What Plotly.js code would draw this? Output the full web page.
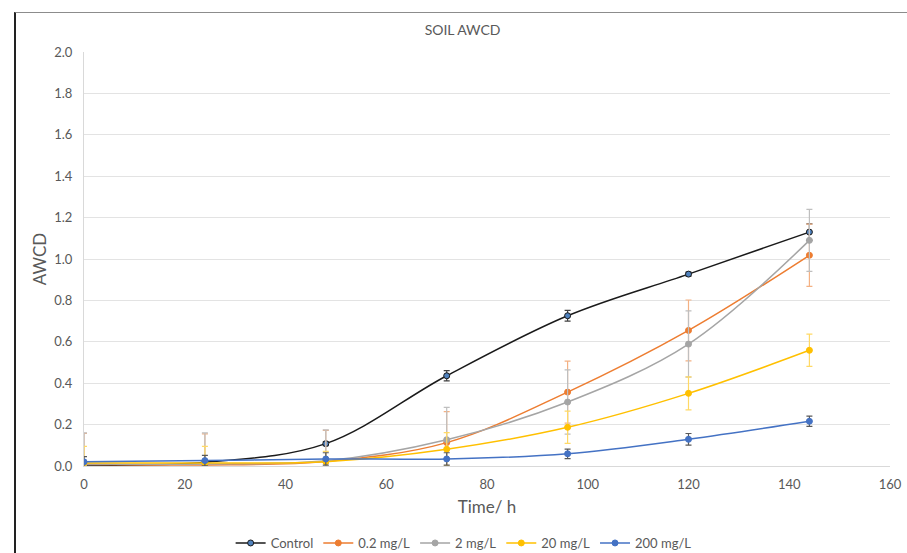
<!DOCTYPE html>
<html>
<head>
<meta charset="utf-8">
<script src="https://cdn.plot.ly/plotly-3.0.1.min.js"></script>
<style>
  html, body { margin: 0; padding: 0; background: #fff; }
  #wrap { position: relative; width: 907px; height: 553px; overflow: hidden; }
  #chart { width: 907px; height: 553px; }
  #frame { position: absolute; left: 14px; top: 12px; width: 1000px; height: 1000px;
           border-left: 2px solid #222; border-top: 1.5px solid #8c8c8c; pointer-events: none; }
</style>
</head>
<body>
<div id="wrap">
  <div id="chart"></div>
  <div id="frame"></div>
</div>
<script>
const time = [0, 24, 48, 72, 96, 120, 144];

const seriesNames = ["Control", "0.2 mg/L", "2 mg/L", "20 mg/L", "200 mg/L"];

const control     = [0.005, 0.018, 0.108, 0.436, 0.726, 0.927, 1.130];
const controlErr  = [0.010, 0.010, 0.010, 0.025, 0.026, 0.010, 0.040];

const c02    = [0.008, 0.005, 0.022, 0.113, 0.357, 0.655, 1.018];
const c02Err = [0.150, 0.150, 0.150, 0.150, 0.150, 0.147, 0.150];

const c2     = [0.010, 0.010, 0.025, 0.127, 0.309, 0.589, 1.090];
const c2Err  = [0.150, 0.150, 0.150, 0.156, 0.155, 0.160, 0.150];

const c20    = [0.015, 0.015, 0.021, 0.081, 0.187, 0.351, 0.559];
const c20Err = [0.080, 0.080, 0.050, 0.080, 0.078, 0.080, 0.078];

const c200    = [0.020, 0.026, 0.034, 0.034, 0.059, 0.129, 0.216];
const c200Err = [0.025, 0.025, 0.030, 0.030, 0.023, 0.028, 0.025];

const xTicks = [0, 20, 40, 60, 80, 100, 120, 140, 160];
const yTicks = [0, 0.2, 0.4, 0.6, 0.8, 1.0, 1.2, 1.4, 1.6, 1.8, 2.0];

function mk(name, y, err, lineColor, markerFill, markerLine, errColor) {
  return {
    type: 'scatter', mode: 'lines+markers', name: name,
    x: time, y: y,
    line: { color: lineColor, width: 1.5, shape: 'spline', smoothing: 1 },
    marker: { symbol: 'circle', size: 6, color: markerFill, line: { color: markerLine, width: 1 } },
    error_y: { type: 'data', array: err, visible: true, color: errColor, thickness: 1.2, width: 3 }
  };
}

const data = [
  mk(seriesNames[0], control, controlErr, '#1a1a1a', '#4f81bd', '#1a1a1a', '#404040'),
  mk(seriesNames[1], c02, c02Err, '#ED7D31', '#ED7D31', '#ED7D31', '#F4B183'),
  mk(seriesNames[2], c2, c2Err, '#A5A5A5', '#A5A5A5', '#A5A5A5', '#BFBFBF'),
  mk(seriesNames[3], c20, c20Err, '#FFC000', '#FFC000', '#FFC000', '#FFD966'),
  mk(seriesNames[4], c200, c200Err, '#4472C4', '#4472C4', '#4472C4', '#595959')
];

const tickFont = { family: 'Lato, "Open Sans", sans-serif', size: 13, color: '#595959' };

const layout = {
  width: 907, height: 553,
  margin: { l: 84, r: 17, t: 52, b: 87, autoexpand: false },
  paper_bgcolor: '#ffffff', plot_bgcolor: '#ffffff',
  showlegend: true,
  title: { text: 'SOIL AWCD', font: { family: 'Lato, sans-serif', size: 14, color: '#595959' },
           x: 0.51, xanchor: 'center', y: 0.946, yanchor: 'middle' },
  xaxis: {
    range: [0, 160], tickvals: xTicks, ticktext: xTicks.map(String), automargin: false,
    showgrid: false, zeroline: false, showline: true, linecolor: '#d9d9d9', linewidth: 1,
    ticks: '', tickfont: tickFont, ticklabelstandoff: 6,
    title: { text: 'Time/ h', font: { family: 'Lato, sans-serif', size: 17, color: '#595959' }, standoff: 10 }
  },
  yaxis: {
    range: [0, 2.0], tickvals: yTicks, ticktext: yTicks.map(v => v.toFixed(1)), automargin: false,
    showgrid: true, gridcolor: '#e3e3e3', gridwidth: 1,
    zeroline: false, showline: true, linecolor: '#d9d9d9', linewidth: 1,
    ticks: '', tickfont: tickFont, ticklabelstandoff: 8,
    title: { text: 'AWCD', font: { family: 'Lato, sans-serif', size: 17, color: '#595959' }, standoff: 3 }
  },
  legend: {
    orientation: 'h', x: 0.471, xanchor: 'center', y: -0.186, yanchor: 'middle',
    font: { family: 'Lato, sans-serif', size: 13, color: '#595959' },
    itemwidth: 30, tracegroupgap: 0, bgcolor: 'rgba(0,0,0,0)'
  }
};

Plotly.newPlot('chart', data, layout, { displayModeBar: false, staticPlot: true });
</script>
</body>
</html>
